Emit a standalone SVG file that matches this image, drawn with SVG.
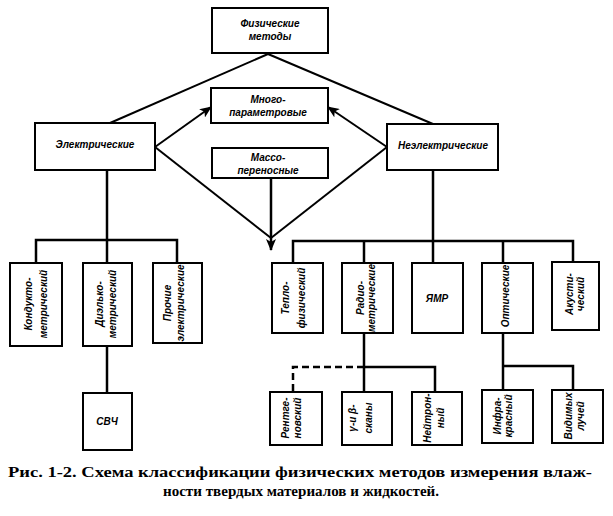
<svg xmlns="http://www.w3.org/2000/svg" width="613" height="516" viewBox="0 0 613 516">
<defs>
<marker id="ah" viewBox="0 0 12 10" refX="11" refY="5" markerWidth="12" markerHeight="10" markerUnits="userSpaceOnUse" orient="auto">
<path d="M0,0 L12,5 L0,10 L3,5 Z" fill="#000"/>
</marker>
<style>
.box{fill:#fff;stroke:#000;stroke-width:2}
.t{font-family:"Liberation Sans",Arial,sans-serif;font-style:italic;font-weight:bold;font-size:10px;fill:#000;text-anchor:middle}
.ln{fill:none;stroke:#000;stroke-width:2.5}
.dg{fill:none;stroke:#000;stroke-width:2}
.ds{fill:none;stroke:#000;stroke-width:2.5;stroke-dasharray:7,4}
.cap{font-family:"Liberation Serif","Times New Roman",serif;font-size:15px;font-weight:bold;fill:#000}
</style>
</defs>
<rect width="613" height="516" fill="#fff"/>

<g id="connectors">
<path class="dg" d="M268,54 L110,123"/>
<path class="dg" d="M268,54 L433,124"/>
<path class="dg" d="M155,147 L211,107" marker-end="url(#ah)"/>
<path class="dg" d="M387,147 L328,107" marker-end="url(#ah)"/>
<path class="dg" d="M155,147 L271,238"/>
<path class="dg" d="M387,147 L271,238"/>
<path class="ln" d="M271,178 L271,250" marker-end="url(#ah)"/>
<path class="ln" d="M107,170 L107,263"/>
<path class="ln" d="M36,263 L36,240 L177,240 L177,263"/>
<path class="ln" d="M107,345 L107,393"/>
<path class="ln" d="M433,170 L433,263"/>
<path class="ln" d="M293,263 L293,241 L573,241 L573,262"/>
<path class="ln" d="M364,241 L364,263"/>
<path class="ln" d="M503,241 L503,263"/>
<path class="ln" d="M364,333 L364,392"/>
<path class="ln" d="M364,367 L435,367 L435,392"/>
<path class="ds" d="M364,367 L293,367 L293,392"/>
<path class="ln" d="M503,332 L503,390"/>
<path class="ln" d="M503,366 L573,366 L573,390"/>
</g>

<g id="n-fiz">
<rect class="box" x="212" y="8" width="116" height="45"/>
<text class="t" x="270" y="27" font-size="11.5">Физические</text>
<text class="t" x="270" y="40" font-size="11.5">методы</text>
</g>
<g id="n-mnogo">
<rect class="box" x="211" y="88" width="117" height="35"/>
<text class="t" x="268" y="103" font-size="11">Много-</text>
<text class="t" x="268" y="116" font-size="11">параметровые</text>
</g>
<g id="n-masso">
<rect class="box" x="212" y="148" width="116" height="30"/>
<text class="t" x="268" y="161" font-size="11">Массо-</text>
<text class="t" x="268" y="174" font-size="11">переносные</text>
</g>
<g id="n-el">
<rect class="box" x="35" y="123" width="120" height="47"/>
<text class="t" x="95" y="148" font-size="12">Электрические</text>
</g>
<g id="n-neel">
<rect class="box" x="387" y="124" width="111" height="46"/>
<text class="t" x="443" y="149" font-size="12">Неэлектрические</text>
</g>

<g id="n-kond">
<rect class="box" x="10" y="263" width="52" height="83"/>
<text class="t" transform="translate(32,304) rotate(-90)" font-size="11">Кондукто-</text>
<text class="t" transform="translate(47,304) rotate(-90)" font-size="11">метрический</text>
</g>
<g id="n-diel">
<rect class="box" x="83" y="263" width="49" height="83"/>
<text class="t" transform="translate(103,304) rotate(-90)" font-size="11">Диэлько-</text>
<text class="t" transform="translate(116,304) rotate(-90)" font-size="11">метрический</text>
</g>
<g id="n-proch">
<rect class="box" x="153" y="263" width="49" height="80"/>
<text class="t" transform="translate(171,303) rotate(-90)">Прочие</text>
<text class="t" transform="translate(184,303) rotate(-90)">электрические</text>
</g>
<g id="n-svch">
<rect class="box" x="83" y="393" width="49" height="57"/>
<text class="t" x="107" y="425" font-size="11">СВЧ</text>
</g>

<g id="n-teplo">
<rect class="box" x="272" y="263" width="51" height="70"/>
<text class="t" transform="translate(289,298) rotate(-90)" font-size="11">Тепло-</text>
<text class="t" transform="translate(305,298) rotate(-90)" font-size="11">физический</text>
</g>
<g id="n-radio">
<rect class="box" x="342" y="263" width="51" height="70"/>
<text class="t" transform="translate(364,298) rotate(-90)" font-size="11">Радио-</text>
<text class="t" transform="translate(375,298) rotate(-90)" font-size="9">метрические</text>
</g>
<g id="n-yamr">
<rect class="box" x="412" y="263" width="51" height="70"/>
<text class="t" x="437" y="302" font-size="11">ЯМР</text>
</g>
<g id="n-opt">
<rect class="box" x="482" y="263" width="51" height="70"/>
<text class="t" transform="translate(509,296) rotate(-90)">Оптические</text>
</g>
<g id="n-akust">
<rect class="box" x="552" y="262" width="47" height="68"/>
<text class="t" transform="translate(573,294) rotate(-90)">Акусти-</text>
<text class="t" transform="translate(584,294) rotate(-90)">ческий</text>
</g>

<g id="n-rentg">
<rect class="box" x="270" y="392" width="52" height="53"/>
<text class="t" transform="translate(289,418) rotate(-90)">Рентге-</text>
<text class="t" transform="translate(301,418) rotate(-90)">новский</text>
</g>
<g id="n-gamma">
<rect class="box" x="342" y="392" width="50" height="53"/>
<text class="t" transform="translate(356,418) rotate(-90)">γ-и β-</text>
<text class="t" transform="translate(372,418) rotate(-90)">сканы</text>
</g>
<g id="n-neitr">
<rect class="box" x="412" y="392" width="50" height="53"/>
<text class="t" transform="translate(431,418) rotate(-90)">Нейтрон-</text>
<text class="t" transform="translate(444,418) rotate(-90)">ный</text>
</g>
<g id="n-infra">
<rect class="box" x="482" y="390" width="51" height="53"/>
<text class="t" transform="translate(501,416) rotate(-90)">Инфра-</text>
<text class="t" transform="translate(512,416) rotate(-90)">красный</text>
</g>
<g id="n-vid">
<rect class="box" x="552" y="390" width="51" height="53"/>
<text class="t" transform="translate(572,416) rotate(-90)">Видимых</text>
<text class="t" transform="translate(584,416) rotate(-90)">лучей</text>
</g>

<text class="cap" x="8" y="477" textLength="584" lengthAdjust="spacingAndGlyphs">Рис. 1-2. Схема классификации физических методов измерения влаж-</text>
<text class="cap" x="163" y="496" textLength="276" lengthAdjust="spacingAndGlyphs">ности твердых материалов и жидкостей.</text>
</svg>
